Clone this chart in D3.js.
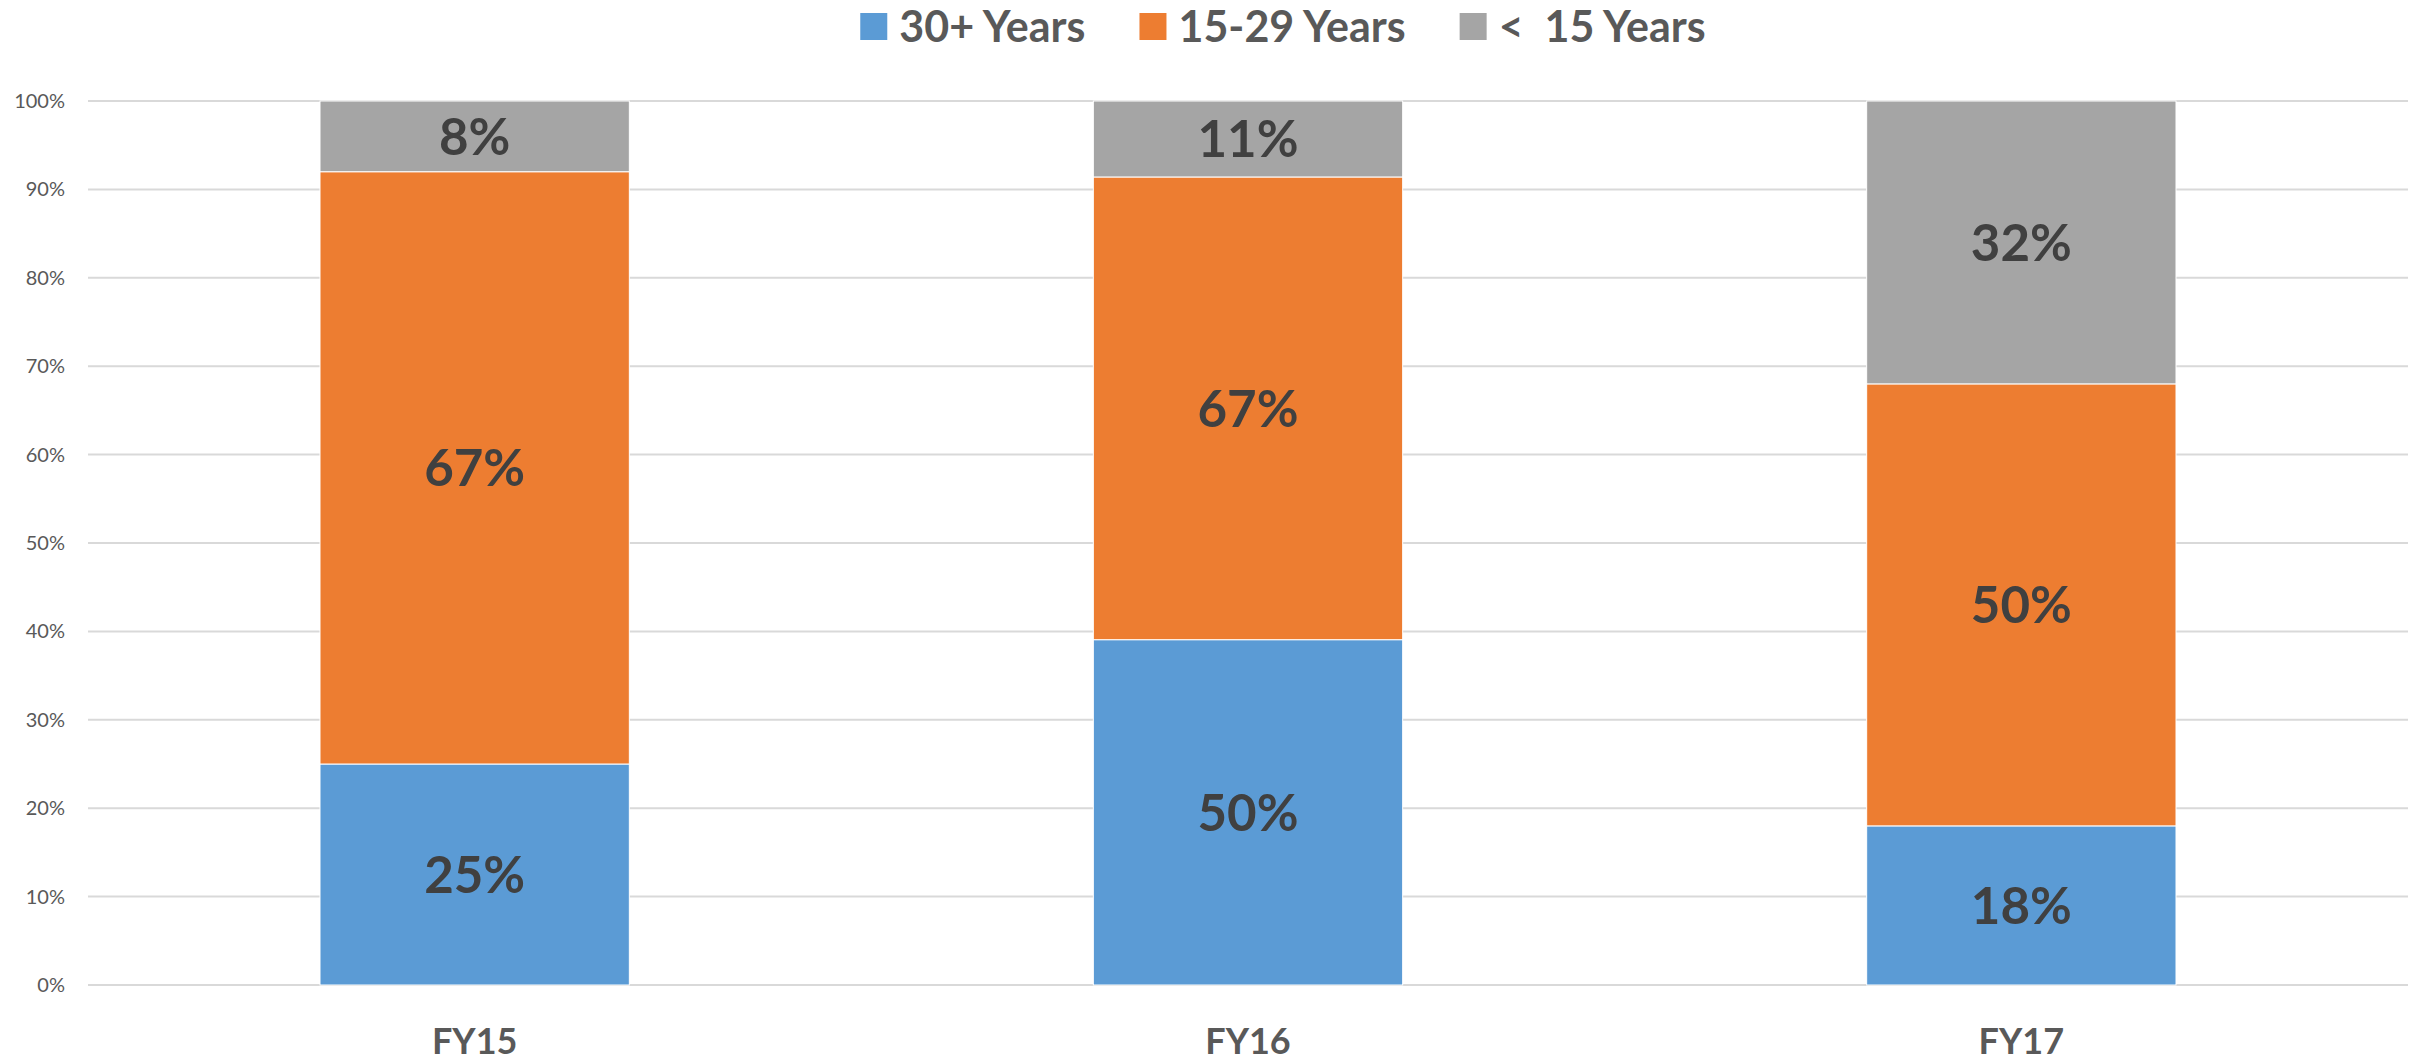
<!DOCTYPE html>
<html>
<head>
<meta charset="utf-8">
<script src="https://cdn.jsdelivr.net/npm/d3@7"></script>
<style>
  html, body { margin: 0; padding: 0; background: #fff; }
  svg { display: block; }
  text { font-family: Lato, "Liberation Sans", sans-serif; }
</style>
</head>
<body>
<svg id="chart" width="2428" height="1061"></svg>
<script>
const categories = ["FY15", "FY16", "FY17"];
const seriesNames = ["30+ Years", "15-29 Years", "<  15 Years"];
const years30plus = [25, 50, 18];
const years15to29 = [67, 67, 50];
const yearsUnder15 = [8, 11, 32];
const yTicks = [0, 0.1, 0.2, 0.3, 0.4, 0.5, 0.6, 0.7, 0.8, 0.9, 1.0];
const colors = ["#5B9BD5", "#ED7D31", "#A5A5A5"];

const W = 2428, H = 1061;
const margin = { left: 88, right: 20, top: 101, bottom: 76 };
const svg = d3.select("#chart");

const keys = ["s30", "s15", "slt"];
const rows = categories.map((c, i) => ({ cat: c, s30: years30plus[i], s15: years15to29[i], slt: yearsUnder15[i] }));
const stacked = d3.stack().keys(keys).offset(d3.stackOffsetExpand)(rows);

const x = d3.scaleBand().domain(categories).range([margin.left, W - margin.right]).paddingInner(0.6).paddingOuter(0.3);
const y = d3.scaleLinear().domain([0, 1]).range([H - margin.bottom, margin.top]);

// gridlines
svg.append("g").selectAll("line").data(yTicks).join("line")
  .attr("x1", margin.left).attr("x2", W - margin.right)
  .attr("y1", d => y(d)).attr("y2", d => y(d))
  .attr("stroke", "#d9d9d9").attr("stroke-width", 2);

// y axis labels
const yAxis = d3.axisLeft(y).tickValues(yTicks).tickFormat(d3.format(".0%")).tickSize(0).tickPadding(23);
const ga = svg.append("g").attr("transform", `translate(${margin.left},0)`).call(yAxis);
ga.select(".domain").remove();
ga.selectAll("text").attr("font-family", "Lato, sans-serif").attr("font-size", 20).attr("fill", "#595959");

// bars
const layers = svg.append("g").selectAll("g").data(stacked).join("g").attr("fill", (d, i) => colors[i]);
layers.selectAll("rect").data(d => d).join("rect")
  .attr("x", d => x(d.data.cat))
  .attr("width", x.bandwidth())
  .attr("y", d => y(d[1]))
  .attr("height", d => y(d[0]) - y(d[1]))
  .attr("stroke", "#ffffff").attr("stroke-width", 1);

// data labels
const labelG = svg.append("g");
stacked.forEach(layer => {
  labelG.selectAll(null).data(layer).join("text")
    .attr("x", d => x(d.data.cat) + x.bandwidth() / 2)
    .attr("y", d => (y(d[0]) + y(d[1])) / 2)
    .attr("dy", "0.36em")
    .attr("text-anchor", "middle")
    .attr("font-weight", 700).attr("font-size", 51).attr("fill", "#404040")
    .text(d => d.data[layer.key] + "%");
});

// x axis labels
const xAxis = d3.axisBottom(x).tickSize(0).tickPadding(0);
const gx = svg.append("g").attr("transform", `translate(0,${H - margin.bottom})`).call(xAxis);
gx.select(".domain").remove();
gx.selectAll("text").attr("font-family", "Lato, sans-serif").attr("font-size", 36).attr("font-weight", 700)
  .attr("fill", "#595959").attr("dy", null).attr("y", 69);

// legend
const legend = svg.append("g");
const items = legend.selectAll("g").data(seriesNames).join("g");
items.append("rect").attr("width", 27).attr("height", 27).attr("y", 13).attr("fill", (d, i) => colors[i]);
items.append("text").attr("x", 39).attr("y", 42)
  .attr("font-size", 43).attr("font-weight", 700).attr("fill", "#595959")
  .style("white-space", "pre").text(d => d);
let widths = [];
items.each(function() { widths.push(39 + this.querySelector("text").getComputedTextLength()); });
const gap = 54;
const total = d3.sum(widths) + gap * (widths.length - 1);
let cx = 1283 - total / 2;
items.each(function(d, i) {
  d3.select(this).attr("transform", `translate(${cx},0)`);
  cx += widths[i] + gap;
});
</script>
</body>
</html>
